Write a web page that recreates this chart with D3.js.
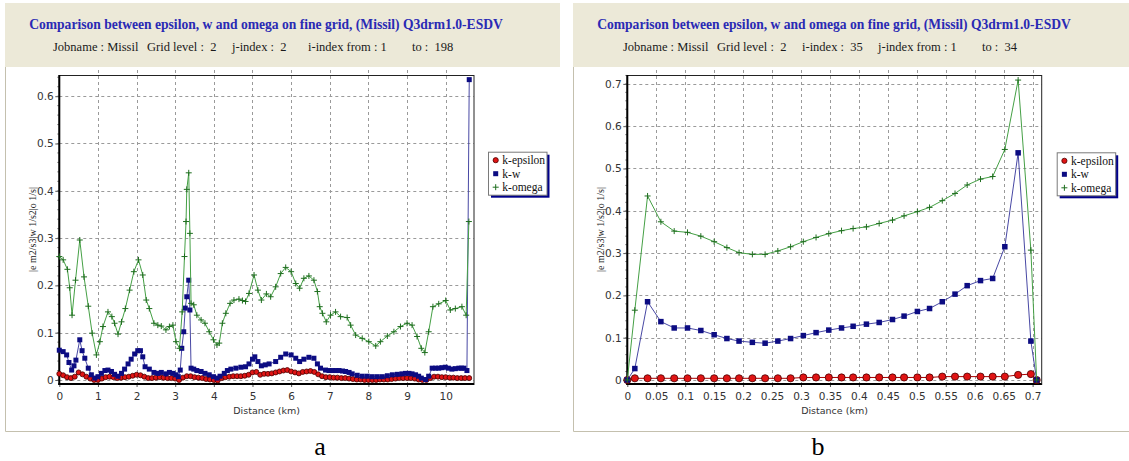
<!DOCTYPE html>
<html><head><meta charset="utf-8">
<script src="https://cdn.jsdelivr.net/npm/d3@7"></script>
<style>body{margin:0;background:#fff;} svg{display:block;}</style>
</head><body>
<svg id="chart" width="1129" height="461"></svg>
<script>
// ---------------- DATA ----------------
const titleText = "Comparison between epsilon, w and omega on fine grid, (Missil) Q3drm1.0-ESDV";
const yAxisTitle = "|e m2/s3|w 1/s2|o 1/s|";
const xAxisTitle = "Distance (km)";
const seriesNames = ["k-epsilon", "k-w", "k-omega"];
const infoA = ["Jobname : Missil", "Grid level :  2", "j-index :  2", "i-index from : 1", "to :  198"];
const infoB = ["Jobname : Missil", "Grid level :  2", "i-index :  35", "j-index from : 1", "to :  34"];
const captions = ["a", "b"];

const xTicksA = [0, 1, 2, 3, 4, 5, 6, 7, 8, 9, 10];
const yTicksA = [0, 0.1, 0.2, 0.3, 0.4, 0.5, 0.6];
const xTicksB = [0, 0.05, 0.1, 0.15, 0.2, 0.25, 0.3, 0.35, 0.4, 0.45, 0.5, 0.55, 0.6, 0.65, 0.7];
const yTicksB = [0, 0.1, 0.2, 0.3, 0.4, 0.5, 0.6, 0.7];

// Panel a: [distance km, value]
const omegaA = [[0.00,0.261],[0.10,0.254],[0.21,0.234],[0.27,0.195],[0.33,0.137],[0.42,0.211],[0.53,0.296],[0.64,0.218],[0.75,0.156],[0.85,0.099],[0.96,0.053],[1.05,0.081],[1.13,0.113],[1.26,0.144],[1.36,0.134],[1.43,0.120],[1.52,0.097],[1.61,0.123],[1.71,0.151],[1.82,0.190],[1.93,0.229],[2.05,0.254],[2.16,0.222],[2.25,0.169],[2.33,0.151],[2.45,0.120],[2.55,0.116],[2.64,0.114],[2.76,0.106],[2.85,0.113],[2.94,0.116],[3.02,0.081],[3.11,0.067],[3.18,0.144],[3.24,0.261],[3.28,0.335],[3.30,0.403],[3.35,0.438],[3.38,0.310],[3.41,0.162],[3.48,0.159],[3.56,0.137],[3.67,0.127],[3.77,0.120],[3.88,0.102],[3.99,0.085],[4.08,0.074],[4.14,0.078],[4.22,0.120],[4.31,0.141],[4.42,0.162],[4.52,0.169],[4.65,0.171],[4.74,0.168],[4.82,0.166],[4.91,0.183],[5.04,0.222],[5.14,0.190],[5.23,0.169],[5.36,0.182],[5.47,0.176],[5.60,0.197],[5.73,0.225],[5.86,0.238],[6.00,0.229],[6.12,0.204],[6.22,0.194],[6.33,0.215],[6.46,0.220],[6.59,0.211],[6.68,0.187],[6.74,0.155],[6.81,0.141],[6.91,0.123],[7.02,0.137],[7.15,0.144],[7.28,0.134],[7.45,0.132],[7.54,0.116],[7.67,0.095],[7.84,0.088],[8.01,0.081],[8.19,0.072],[8.31,0.081],[8.49,0.093],[8.66,0.102],[8.83,0.113],[9.00,0.120],[9.13,0.116],[9.26,0.092],[9.37,0.067],[9.46,0.058],[9.56,0.102],[9.67,0.155],[9.82,0.161],[10.00,0.168],[10.12,0.148],[10.25,0.151],[10.42,0.155],[10.53,0.137],[10.60,0.335]];

const wA = [[0.00,0.063],[0.10,0.060],[0.19,0.053],[0.25,0.037],[0.32,0.021],[0.38,0.030],[0.43,0.042],[0.53,0.085],[0.59,0.062],[0.66,0.046],[0.75,0.025],[0.83,0.011],[0.92,0.004],[1.00,0.007],[1.09,0.014],[1.18,0.020],[1.26,0.021],[1.35,0.018],[1.43,0.012],[1.52,0.008],[1.61,0.014],[1.69,0.023],[1.78,0.034],[1.86,0.044],[1.95,0.055],[2.03,0.062],[2.10,0.062],[2.16,0.049],[2.22,0.028],[2.33,0.023],[2.45,0.016],[2.55,0.014],[2.64,0.016],[2.76,0.013],[2.85,0.016],[2.94,0.014],[3.02,0.011],[3.08,0.007],[3.13,0.021],[3.17,0.067],[3.22,0.102],[3.26,0.152],[3.30,0.176],[3.35,0.211],[3.38,0.148],[3.41,0.025],[3.48,0.023],[3.56,0.020],[3.67,0.018],[3.77,0.014],[3.88,0.011],[3.99,0.007],[4.08,0.004],[4.16,0.008],[4.27,0.014],[4.35,0.020],[4.44,0.023],[4.57,0.025],[4.70,0.027],[4.82,0.028],[4.91,0.034],[5.00,0.044],[5.06,0.049],[5.14,0.039],[5.23,0.030],[5.33,0.032],[5.43,0.034],[5.60,0.039],[5.73,0.048],[5.86,0.055],[6.00,0.053],[6.12,0.046],[6.22,0.039],[6.33,0.044],[6.46,0.048],[6.59,0.046],[6.68,0.034],[6.76,0.025],[6.89,0.021],[6.98,0.020],[7.07,0.020],[7.16,0.020],[7.24,0.020],[7.33,0.019],[7.41,0.018],[7.50,0.016],[7.58,0.013],[7.71,0.010],[7.84,0.008],[7.97,0.008],[8.10,0.007],[8.23,0.007],[8.36,0.007],[8.49,0.009],[8.62,0.011],[8.75,0.012],[8.87,0.013],[8.96,0.014],[9.05,0.014],[9.13,0.013],[9.22,0.011],[9.30,0.008],[9.37,0.004],[9.48,0.001],[9.56,0.008],[9.65,0.025],[9.74,0.025],[9.82,0.025],[9.90,0.026],[9.99,0.027],[10.07,0.025],[10.16,0.023],[10.25,0.024],[10.34,0.025],[10.41,0.025],[10.47,0.025],[10.55,0.020],[10.61,0.635]];

const epsA = [[0.0,0.013],[0.1,0.010],[0.2,0.006],[0.3,0.004],[0.4,0.007],[0.5,0.016],[0.6,0.012],[0.7,0.007],[0.8,0.003],[0.9,0.000],[1.0,0.000],[1.1,0.003],[1.2,0.006],[1.3,0.007],[1.4,0.006],[1.5,0.004],[1.6,0.005],[1.7,0.006],[1.8,0.007],[1.9,0.009],[2.0,0.011],[2.1,0.010],[2.2,0.007],[2.3,0.004],[2.4,0.004],[2.5,0.005],[2.6,0.006],[2.7,0.005],[2.8,0.004],[2.9,0.004],[3.0,0.003],[3.1,0.000],[3.2,0.005],[3.3,0.008],[3.4,0.008],[3.5,0.006],[3.6,0.005],[3.7,0.004],[3.8,0.002],[3.9,0.001],[4.0,0.000],[4.1,-0.001],[4.2,0.004],[4.3,0.006],[4.4,0.007],[4.5,0.008],[4.6,0.008],[4.7,0.008],[4.8,0.009],[4.9,0.011],[5.0,0.016],[5.1,0.017],[5.2,0.011],[5.3,0.013],[5.4,0.013],[5.5,0.014],[5.6,0.016],[5.7,0.018],[5.8,0.020],[5.9,0.021],[6.0,0.018],[6.1,0.016],[6.2,0.014],[6.3,0.017],[6.4,0.018],[6.5,0.019],[6.6,0.017],[6.7,0.012],[6.8,0.008],[6.9,0.006],[7.0,0.006],[7.1,0.005],[7.2,0.005],[7.3,0.004],[7.4,0.004],[7.5,0.003],[7.6,0.002],[7.7,0.001],[7.8,0.001],[7.9,0.000],[8.0,0.000],[8.1,0.000],[8.2,0.000],[8.3,0.001],[8.4,0.001],[8.5,0.001],[8.6,0.002],[8.7,0.003],[8.8,0.004],[8.9,0.004],[9.0,0.004],[9.1,0.004],[9.2,0.003],[9.3,0.001],[9.4,0.000],[9.5,0.000],[9.6,0.004],[9.7,0.007],[9.8,0.007],[9.9,0.006],[10.0,0.006],[10.1,0.005],[10.2,0.005],[10.3,0.004],[10.4,0.004],[10.5,0.004],[10.61,0.004]];

// Panel b: shared distances (34 points)
const distB = [0, 0.013, 0.035, 0.058, 0.081, 0.104, 0.127, 0.150, 0.172, 0.193, 0.216, 0.238, 0.260, 0.282, 0.304, 0.326, 0.348, 0.370, 0.390, 0.413, 0.435, 0.458, 0.478, 0.501, 0.522, 0.544, 0.566, 0.587, 0.610, 0.631, 0.652, 0.675, 0.697, 0.707];
const epsB = [0.000, 0.004, 0.004, 0.004, 0.004, 0.004, 0.004, 0.004, 0.004, 0.004, 0.004, 0.004, 0.004, 0.004, 0.006, 0.006, 0.006, 0.006, 0.006, 0.006, 0.006, 0.006, 0.006, 0.006, 0.006, 0.008, 0.008, 0.008, 0.008, 0.008, 0.008, 0.012, 0.014, 0.000];
const wB = [0.000, 0.027, 0.185, 0.138, 0.123, 0.123, 0.117, 0.107, 0.098, 0.092, 0.089, 0.087, 0.092, 0.098, 0.105, 0.112, 0.118, 0.123, 0.127, 0.132, 0.136, 0.143, 0.151, 0.162, 0.169, 0.185, 0.203, 0.223, 0.235, 0.240, 0.315, 0.537, 0.092, 0.000];
const omegaB = [0.000, 0.165, 0.435, 0.374, 0.352, 0.349, 0.340, 0.327, 0.313, 0.301, 0.297, 0.297, 0.305, 0.315, 0.327, 0.337, 0.346, 0.353, 0.358, 0.362, 0.370, 0.378, 0.388, 0.398, 0.408, 0.424, 0.441, 0.461, 0.475, 0.481, 0.545, 0.709, 0.307, 0.000];

// ---------------- LAYOUT ----------------
const panels = [
  { info: infoA, infoX: [53, 147, 232, 308, 412], xTicks: xTicksA, yTicks: yTicksA,
    xDom: [0, 10.733], yDom: [-0.00846, 0.6448], l: 59.3, r: 474, t: 75, b: 384,
    hx0: 5, hx1: 560, titleX: 266, legX: 488, legY: 151.7, cap: captions[0], capX: 320,
    series: [epsA, wA, omegaA], mr: 2.5, sq: 5 },
  { info: infoB, infoX: [623, 717, 802, 878, 982], xTicks: xTicksB, yTicks: yTicksB,
    xDom: [0, 0.7157], yDom: [-0.00946, 0.721], l: 627.3, r: 1041.7, t: 75, b: 384,
    hx0: 573, hx1: 1129, titleX: 834, legX: 1056.7, legY: 152.3, cap: captions[1], capX: 818,
    series: [distB.map((d, i) => [d, epsB[i]]), distB.map((d, i) => [d, wB[i]]), distB.map((d, i) => [d, omegaB[i]])],
    mr: 3.6, sq: 5.5 }
];

const col = {
  epsLine: "#a80000", epsFill: "#e01414", epsStroke: "#4a0000",
  wLine: "#4848a4", wFill: "#0c0c82",
  omLine: "#45a045", omMark: "#1f6e1f"
};

const svg = d3.select("#chart");
const tickFont = "DejaVu Sans, Verdana, sans-serif";
const serif = "Liberation Serif, Times New Roman, serif";

panels.forEach(p => {
  const g = svg.append("g");
  // header
  g.append("rect").attr("x", p.hx0).attr("y", 3).attr("width", p.hx1 - p.hx0).attr("height", 64).attr("fill", "#ece9d8");
  // body border
  g.append("path").attr("d", `M${p.hx0 + 0.5},67 V431.5 H${p.hx1}`).attr("fill", "none").attr("stroke", "#c4c0ae").attr("stroke-width", 1);

  // title
  const tt = g.append("text").attr("x", p.titleX).attr("y", 28.5).attr("text-anchor", "middle")
    .attr("font-family", serif).attr("font-weight", "bold").attr("font-size", 14).attr("fill", "#2a2ab4").text(titleText);
  const len = tt.node().getComputedTextLength();
  tt.attr("font-size", 14 * 474 / len);

  // info line
  p.info.forEach((s, i) => {
    g.append("text").attr("x", p.infoX[i]).attr("y", 50.5).attr("font-family", serif)
      .attr("font-size", 12.5).attr("fill", "#1a1a1a").style("white-space", "pre").attr("xml:space", "preserve").text(s);
  });

  const x = d3.scaleLinear().domain(p.xDom).range([p.l, p.r]);
  const y = d3.scaleLinear().domain(p.yDom).range([p.b, p.t]);

  // grid
  const grid = g.append("g").attr("stroke", "#9a9a9a").attr("stroke-width", 1).attr("stroke-dasharray", "3,3");
  p.xTicks.forEach(v => {
    if (v === p.xDom[0]) return;
    grid.append("line").attr("x1", Math.round(x(v)) + 0.5).attr("x2", Math.round(x(v)) + 0.5).attr("y1", p.t - 5).attr("y2", p.b);
  });
  p.yTicks.forEach(v => {
    grid.append("line").attr("x1", p.l).attr("x2", p.r).attr("y1", Math.round(y(v)) + 0.5).attr("y2", Math.round(y(v)) + 0.5);
  });

  // frame
  g.append("rect").attr("x", p.l).attr("y", p.t + 0.5).attr("width", p.r - p.l).attr("height", p.b - p.t)
    .attr("fill", "none").attr("stroke", "#222").attr("stroke-width", 1);

  // axes
  const fmt = d3.format("~g");
  const ya = g.append("g").attr("transform", `translate(${p.l},0)`)
    .call(d3.axisLeft(y).tickValues(p.yTicks).tickSize(4).tickPadding(1.5).tickFormat(fmt));
  const xa = g.append("g").attr("transform", `translate(0,${p.b})`)
    .call(d3.axisBottom(x).tickValues(p.xTicks).tickSize(3).tickPadding(6).tickFormat(fmt));
  [ya, xa].forEach(a => {
    a.select(".domain").remove();
    a.selectAll("line").attr("stroke", "#555");
    a.selectAll("text").attr("font-family", tickFont).attr("font-size", 10.5).attr("fill", "#333");
  });
  // minor y ticks
  const step = 0.02;
  for (let v = 0; v <= p.yDom[1] + 1e-9; v += step) {
    g.append("line").attr("x1", p.l - 2).attr("x2", p.l).attr("y1", y(v)).attr("y2", y(v)).attr("stroke", "#777");
  }
  // thick left and bottom axis lines
  g.append("line").attr("x1", p.l).attr("x2", p.l).attr("y1", p.t).attr("y2", p.b + 1).attr("stroke", "#000").attr("stroke-width", 2);
  g.append("line").attr("x1", p.l - 1).attr("x2", p.r).attr("y1", p.b).attr("y2", p.b).attr("stroke", "#000").attr("stroke-width", 2);

  // axis titles
  g.append("text").attr("transform", `translate(${p.l - 27},${(p.t + p.b) / 2}) rotate(-90)`)
    .attr("text-anchor", "middle").attr("dy", "0.35em").attr("font-family", serif).attr("font-size", 10)
    .attr("fill", "#222").text(yAxisTitle);
  g.append("text").attr("x", (p.l + p.r) / 2).attr("y", 414).attr("text-anchor", "middle")
    .attr("font-family", tickFont).attr("font-size", 9.5).attr("fill", "#333").text(xAxisTitle);

  // series
  const line = d3.line().x(d => x(d[0])).y(d => y(d[1]));
  const [eps, w, om] = p.series;

  g.append("path").datum(eps).attr("d", line).attr("fill", "none").attr("stroke", col.epsLine).attr("stroke-width", 1);
  g.append("g").selectAll("circle").data(eps).join("circle")
    .attr("cx", d => x(d[0])).attr("cy", d => y(d[1])).attr("r", p.mr)
    .attr("fill", col.epsFill).attr("stroke", col.epsStroke).attr("stroke-width", 0.8);

  g.append("path").datum(w).attr("d", line).attr("fill", "none").attr("stroke", col.wLine).attr("stroke-width", 1);
  g.append("g").selectAll("rect").data(w).join("rect")
    .attr("x", d => x(d[0]) - p.sq / 2).attr("y", d => y(d[1]) - p.sq / 2).attr("width", p.sq).attr("height", p.sq)
    .attr("fill", col.wFill);

  g.append("path").datum(om).attr("d", line).attr("fill", "none").attr("stroke", col.omLine).attr("stroke-width", 1);
  g.append("g").selectAll("path").data(om).join("path")
    .attr("d", d => `M${x(d[0]) - 3},${y(d[1])}H${x(d[0]) + 3}M${x(d[0])},${y(d[1]) - 3}V${y(d[1]) + 3}`)
    .attr("stroke", col.omMark).attr("stroke-width", 1).attr("fill", "none");

  // legend
  const lg = g.append("g").attr("transform", `translate(${p.legX},${p.legY})`);
  const lw = 58.5, lh = 43;
  lg.append("rect").attr("x", 3).attr("y", 3).attr("width", lw).attr("height", lh).attr("fill", "#00008b");
  lg.append("rect").attr("x", 0.5).attr("y", 0.5).attr("width", lw).attr("height", lh).attr("fill", "#fff").attr("stroke", "#7a7a7a");
  const rows = [8.5, 22, 35.5];
  lg.append("circle").attr("cx", 7.7).attr("cy", rows[0]).attr("r", 2.6).attr("fill", col.epsFill).attr("stroke", col.epsStroke).attr("stroke-width", 0.8);
  lg.append("rect").attr("x", 5.2).attr("y", rows[1] - 2.5).attr("width", 5).attr("height", 5).attr("fill", col.wFill);
  lg.append("path").attr("d", `M4.7,${rows[2]}H10.7M7.7,${rows[2] - 3}V${rows[2] + 3}`).attr("stroke", col.omMark).attr("fill", "none");
  seriesNames.forEach((n, i) => {
    lg.append("text").attr("x", 14.3).attr("y", rows[i]).attr("dy", "0.35em").attr("font-family", serif)
      .attr("font-size", 11.5).attr("fill", "#111").text(n);
  });

  // caption
  g.append("text").attr("x", p.capX).attr("y", 455).attr("text-anchor", "middle").attr("font-family", serif)
    .attr("font-size", 26).attr("fill", "#000").text(p.cap);
});
</script>
</body></html>
